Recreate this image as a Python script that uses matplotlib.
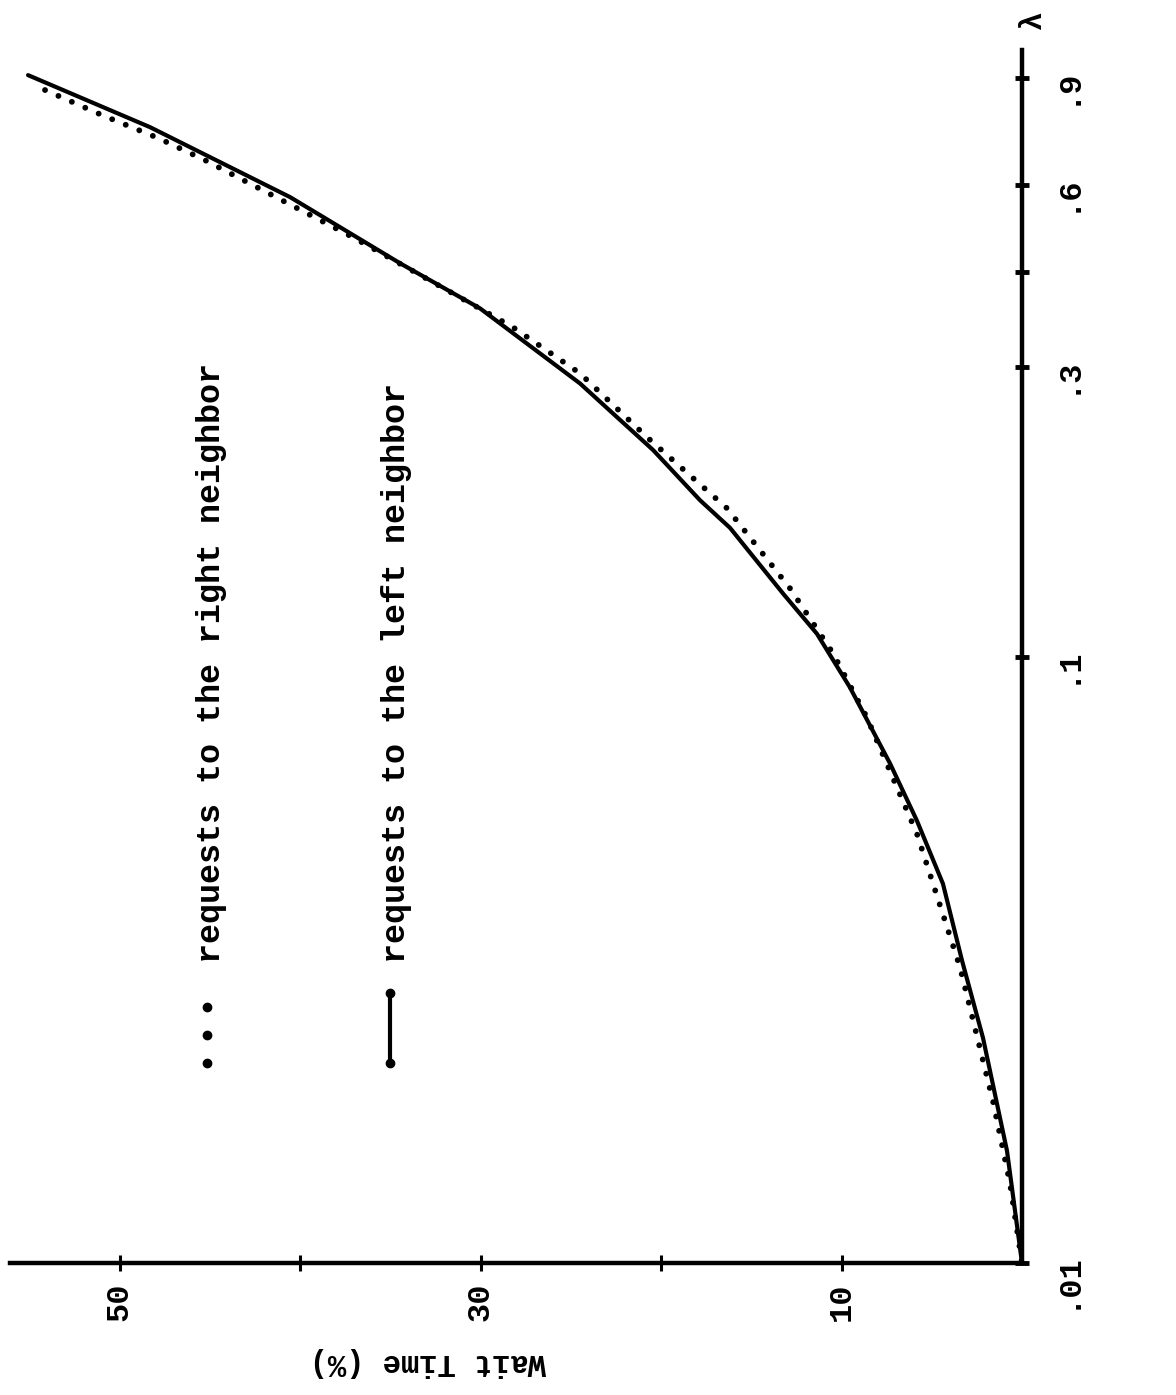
import numpy as np
import matplotlib.pyplot as plt
from matplotlib.lines import Line2D

plt.rcParams['font.family'] = ['Liberation Mono', 'DejaVu Sans Mono']
plt.rcParams['font.weight'] = 'bold'

# requests to the left neighbor (solid)
lam_left = [0.909, 0.746, 0.572, 0.445, 0.375, 0.282, 0.219, 0.181, 0.163,
            0.127, 0.109, 0.0889, 0.0666, 0.0536, 0.0422, 0.0315, 0.0235,
            0.0153, 0.01]
wait_left = [55.07, 48.31, 40.55, 34.46, 30.03, 24.49, 20.44, 17.84, 16.18,
             13.24, 11.36, 9.53, 7.31, 5.82, 4.38, 3.32, 2.16, 0.83, 0.0]

# requests to the right neighbor (dotted)
lam_right = [0.859, 0.781, 0.716, 0.658, 0.491, 0.349, 0.293, 0.230, 0.1755,
             0.1295, 0.1012, 0.0793, 0.0510, 0.0307, 0.0185, 0.0135, 0.01]
wait_right = [54.13, 50.97, 47.87, 45.26, 37.06, 28.20, 24.49, 20.78, 16.34,
              12.85, 10.47, 8.59, 5.82, 3.43, 1.61, 0.66, 0.0]

wait_ticks = [10, 20, 30, 40, 50]
wait_labels = ['10', '', '30', '', '50']
lam_ticks = [0.01, 0.1, 0.3, 0.43, 0.6, 0.9]
lam_labels = ['.01', '.1', '.3', '', '.6', '.9']

W, H = 1176, 1395
fig = plt.figure(figsize=(W / 100, H / 100), dpi=100)
ax = fig.add_axes([10 / W, 1 - 1263 / H, (1022 - 10) / W, (1263 - 50) / H])

ax.plot(wait_left, lam_left, color='black', lw=3, solid_capstyle='round',
        solid_joinstyle='round')
ax.plot(wait_right, lam_right, color='black', lw=4.2,
        linestyle=(0, (0.01, 2.5)), dash_capstyle='round')

ax.set_yscale('log')
ax.minorticks_off()
ax.set_xlim(56.07, 0)
ax.set_ylim(0.01, 1.0)

for s in ['top', 'left']:
    ax.spines[s].set_visible(False)
for s in ['bottom', 'right']:
    ax.spines[s].set_linewidth(3.2)
ax.yaxis.tick_right()

ax.set_xticks(wait_ticks, wait_labels)
ax.set_yticks(lam_ticks, lam_labels)
ax.tick_params(axis='x', direction='inout', length=12, width=2.2, pad=8,
               labelsize=23, labelrotation=90)
ax.tick_params(axis='y', direction='inout', length=10, width=3.5, pad=16,
               labelsize=23, labelrotation=90)
ax.patch.set_alpha(0)

# legend, written along the page
fig.text(220 / W, 1 - 963 / H, 'requests to the right neighbor', rotation=90,
         rotation_mode='anchor', ha='left', va='baseline', fontsize=24)
fig.text(405 / W, 1 - 963 / H, 'requests to the left neighbor', rotation=90,
         rotation_mode='anchor', ha='left', va='baseline', fontsize=24)
fig.add_artist(Line2D([207 / W] * 3, [1 - 1007 / H, 1 - 1035 / H, 1 - 1063 / H],
                      transform=fig.transFigure, ls='none', marker='o',
                      ms=6, color='black'))
fig.add_artist(Line2D([390 / W] * 2, [1 - 993 / H, 1 - 1063 / H],
                      transform=fig.transFigure, lw=3, color='black',
                      marker='o', ms=6))

fig.text(1033 / W, 1 - 20 / H, 'λ', rotation=90, ha='center', va='center',
         fontsize=22)
fig.text(428 / W, 1 - 1362 / H, 'Wait Time (%)', rotation=180, ha='center',
         va='center', fontsize=22)

fig.savefig('out.png', dpi=100, facecolor='white')
